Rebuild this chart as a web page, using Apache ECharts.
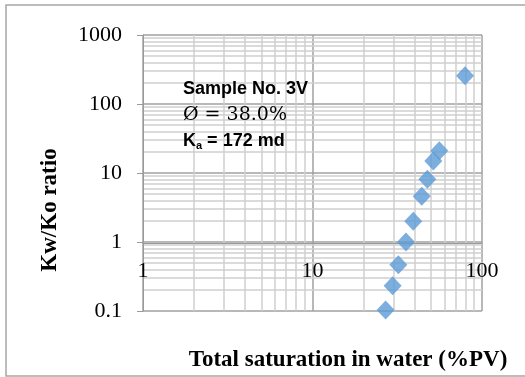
<!DOCTYPE html>
<html>
<head>
<meta charset="utf-8">
<script src="https://cdn.jsdelivr.net/npm/echarts@6/dist/echarts.min.js"></script>
<style>
  html, body { margin: 0; padding: 0; background: #fff; }
  #chart { width: 525px; height: 377px; }
</style>
</head>
<body>
<div id="chart"></div>
<script>
// Total water saturation (%PV) against Kw/Ko ratio, sample 3V
const saturation = [79.4, 56.0, 51.6, 47.6, 44.1, 39.3, 35.6, 32.1, 29.7, 27.0];
const kwKoRatio  = [257, 21.0, 14.9, 8.1, 4.6, 2.0, 1.0, 0.47, 0.233, 0.103];

// Log-axis tick values and minor grid positions
const xTicks = [1, 10, 100];
const yTicks = [0.1, 1, 10, 100, 1000];
const xMinor = [2, 3, 4, 5, 6, 7, 8, 9, 20, 30, 40, 50, 60, 70, 80, 90];
const yMinor = [0.2, 0.3, 0.4, 0.5, 0.6, 0.7, 0.8, 0.9,
                2, 3, 4, 5, 6, 7, 8, 9,
                20, 30, 40, 50, 60, 70, 80, 90,
                200, 300, 400, 500, 600, 700, 800, 900];

const sampleLines = ['Sample No. 3V', 'Ø = 38.0%', '172 md'];

const chart = echarts.init(document.getElementById('chart'), null, { renderer: 'canvas' });

const serif = '"Liberation Serif", "Times New Roman", serif';
const sans = '"Liberation Sans", Arial, sans-serif';

chart.setOption({
  animation: false,
  backgroundColor: '#ffffff',
  grid: { left: 143, right: 43, top: 35, bottom: 66, containLabel: false },
  xAxis: {
    type: 'log', logBase: 10, min: xTicks[0], max: xTicks[xTicks.length - 1],
    splitNumber: 2,
    position: 'bottom',
    offset: -68,
    z: 5,
    axisLine: { show: true, lineStyle: { color: '#9a9a9a', width: 1 } },
    axisTick: { show: false },
    axisLabel: {
      margin: 17, color: '#000', fontFamily: serif, fontSize: 22,
      formatter: v => String(v)
    },
    splitLine: { show: true, lineStyle: { color: '#a0a0a0', width: 1.5 } }
  },
  yAxis: {
    type: 'log', logBase: 10, min: yTicks[0], max: yTicks[yTicks.length - 1],
    splitNumber: 4,
    z: 5,
    axisLine: { show: true, lineStyle: { color: '#9a9a9a', width: 1 } },
    axisTick: { show: true, inside: false, length: 6, lineStyle: { color: '#9a9a9a' } },
    axisLabel: {
      margin: 21, color: '#000', fontFamily: serif, fontSize: 22,
      formatter: v => String(+v.toPrecision(6))
    },
    splitLine: { show: true, lineStyle: { color: '#a0a0a0', width: 1.5 } }
  },
  graphic: [
    { type: 'rect', silent: true, z: -10,
      shape: { x: 6, y: 5, width: 540, height: 371 },
      style: { fill: 'none', stroke: '#a6a6a6', lineWidth: 1.5 } },
    { type: 'text', left: 183, top: 80, z: 100,
      style: { text: sampleLines[0], font: 'bold 18px ' + sans, fill: '#000' } },
    { type: 'text', left: 183, top: 106, z: 100,
      style: { text: sampleLines[1], font: '19px "DejaVu Serif", serif', fill: '#000' } },
    { type: 'text', left: 183, top: 132, z: 100,
      style: {
        text: '{k|K}{s|a}{k| = ' + sampleLines[2] + '}',
        rich: {
          k: { font: 'bold 18px ' + sans, fill: '#000' },
          s: { font: 'bold 11px ' + sans, fill: '#000', padding: [10, 0, 0, 0] }
        }
      } },
    { type: 'text', z: 100, x: 348, y: 360,
      style: { text: 'Total saturation in water (%PV)', font: 'bold 23px ' + serif, fill: '#000', align: 'center', verticalAlign: 'middle' } },
    { type: 'text', z: 100, x: 50, y: 210, rotation: Math.PI / 2,
      style: { text: 'Kw/Ko ratio', font: 'bold 23px ' + serif, fill: '#000', align: 'center', verticalAlign: 'middle' } }
  ],
  series: [
    {
      // minor log grid lines
      type: 'line', data: [], silent: true, z: 1,
      markLine: {
        silent: true, symbol: 'none', animation: false,
        label: { show: false },
        lineStyle: { type: 'solid', color: '#cfcfcf', width: 1.5 },
        data: xMinor.map(v => ({ xAxis: v })).concat(yMinor.map(v => ({ yAxis: v })))
      }
    },
    {
      type: 'scatter', z: 10,
      symbol: 'diamond', symbolSize: [18, 19],
      itemStyle: { color: '#5b9bd5' },
      data: saturation.map((s, i) => [s, kwKoRatio[i]])
    }
  ]
});
</script>
</body>
</html>
